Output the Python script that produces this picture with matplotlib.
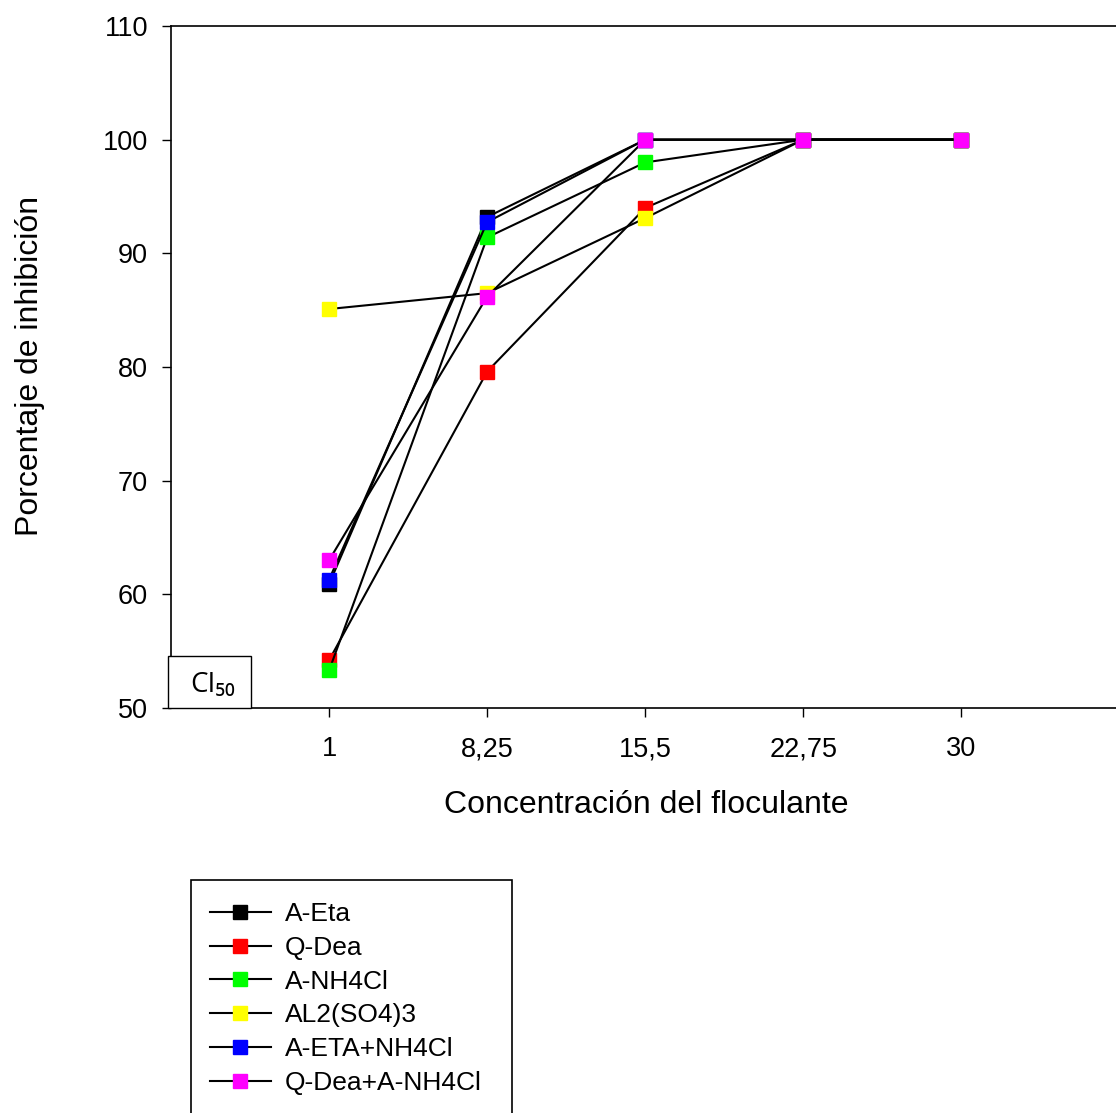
import matplotlib.pyplot as plt
from matplotlib.patches import Rectangle

plt.rcParams['font.family'] = ['Liberation Sans', 'DejaVu Sans']

x = [1, 8.25, 15.5, 22.75, 30]
x_labels = ['1', '8,25', '15,5', '22,75', '30']

names = ['A-Eta', 'Q-Dea', 'A-NH4Cl', 'AL2(SO4)3', 'A-ETA+NH4Cl', 'Q-Dea+A-NH4Cl']
colors = ['#000000', '#ff0000', '#00ff00', '#ffff00', '#0000ff', '#ff00ff']

a_eta = [60.9, 93.2, 100, 100, 100]
q_dea = [54.2, 79.6, 94.0, 100, 100]
a_nh4cl = [53.3, 91.4, 98.0, 100, 100]
al2so4 = [85.1, 86.5, 93.1, 100, 100]
a_eta_nh4cl = [61.3, 92.75, 100, 100, 100]
q_dea_nh4cl = [63.0, 86.2, 100, 100, 100]

series = [a_eta, q_dea, a_nh4cl, al2so4, a_eta_nh4cl, q_dea_nh4cl]

W, H = 1116, 1113
fig = plt.figure(figsize=(W / 100, H / 100), dpi=100)
ax = fig.add_axes([171 / W, 1 - 708 / H, 1.0 - 171 / W + 0.01, (708 - 26) / H])

handles = []
for name, col, vals in zip(names, colors, series):
    h, = ax.plot(x, vals, color='black', lw=1.5, marker='s', markersize=10,
                 markerfacecolor=col, markeredgecolor=col, label=name)
    handles.append(h)

ax.set_xlim(-6.25, 37.6)
ax.set_ylim(50, 110)
ax.set_xticks(x)
ax.set_xticklabels(x_labels)
ax.set_yticks([50, 60, 70, 80, 90, 100, 110])
ax.tick_params(direction='out', length=6.5, width=1, labelsize=19.5)
ax.tick_params(axis='x', pad=14)
ax.tick_params(axis='y', pad=10)
ax.spines['right'].set_visible(False)
for s in ['left', 'bottom', 'top']:
    ax.spines[s].set_linewidth(1.2)

ax.set_xlabel('Concentración del floculante', fontsize=23)
ax.set_ylabel('Porcentaje de inhibición', fontsize=23)
ax.xaxis.set_label_coords(646 / W, 1 - 790 / H, transform=fig.transFigure)
ax.yaxis.set_label_coords(45 / W, 1 - 366 / H, transform=fig.transFigure)

# CI50 box
fig.add_artist(Rectangle((168 / W, 1 - 708 / H), (251 - 168) / W, (708 - 656) / H,
                         transform=fig.transFigure, facecolor='white',
                         edgecolor='black', lw=1, zorder=10))
fig.text(213 / W, 1 - 685 / H, 'CI₅₀', fontsize=20, ha='center', va='center',
         family=['Open Sans', 'DejaVu Sans'], zorder=11)

# legend with frame cut by the figure edge
fig.add_artist(Rectangle((191 / W, -0.02), (512 - 191) / W, (1 - 880 / H) + 0.02,
                         transform=fig.transFigure, facecolor='white',
                         edgecolor='black', lw=1.2, zorder=5))
leg = fig.legend(handles=handles, loc='upper left',
                 bbox_to_anchor=(210 / W, 1 - 902 / H), frameon=False,
                 fontsize=19, handlelength=2.3, labelspacing=0.37,
                 handletextpad=0.55, borderpad=0, borderaxespad=0)
leg.set_zorder(6)

fig.savefig('out.png', dpi=100)
